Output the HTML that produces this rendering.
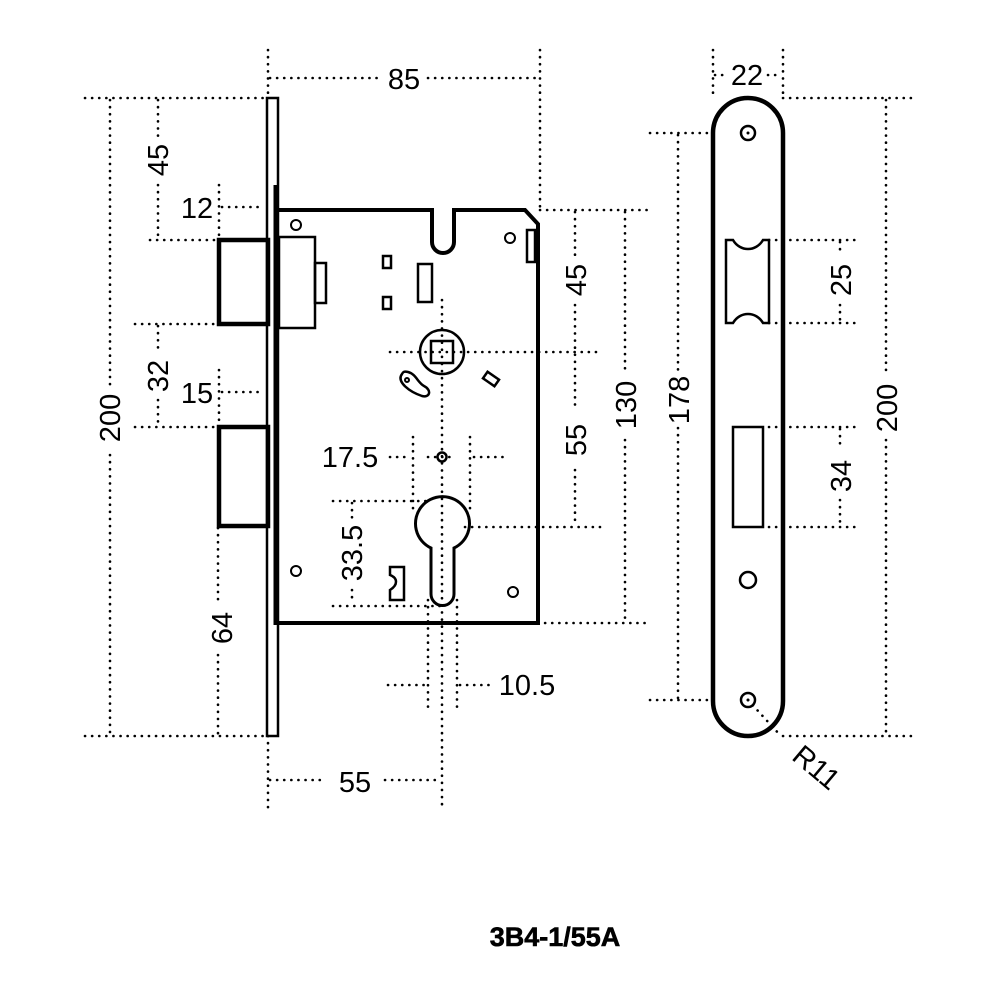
<!DOCTYPE html>
<html><head><style>html,body{margin:0;padding:0;background:#fff}svg{display:block}</style></head><body>
<svg width="1000" height="1000" viewBox="0 0 1000 1000" xmlns="http://www.w3.org/2000/svg" font-family="Liberation Sans, sans-serif">
<rect width="1000" height="1000" fill="#fff"/>
<g stroke="#000" stroke-width="2.6" stroke-dasharray="0.1 7" stroke-linecap="round" fill="none">
<line x1="85" y1="98" x2="268" y2="98"/><line x1="85" y1="736" x2="268" y2="736"/>
<line x1="268" y1="50" x2="268" y2="98"/><line x1="540" y1="50" x2="540" y2="210"/>
<line x1="270" y1="78" x2="380" y2="78"/><line x1="428" y1="78" x2="538" y2="78"/>
<line x1="110" y1="100" x2="110" y2="385"/><line x1="110" y1="455" x2="110" y2="734"/>
<line x1="158" y1="100" x2="158" y2="140"/><line x1="158" y1="185" x2="158" y2="238"/>
<line x1="158" y1="326" x2="158" y2="350"/><line x1="158" y1="400" x2="158" y2="425"/>
<line x1="150" y1="240" x2="219" y2="240"/><line x1="135" y1="324" x2="219" y2="324"/><line x1="135" y1="427" x2="219" y2="427"/>
<line x1="219" y1="185" x2="219" y2="240"/><line x1="222" y1="207" x2="264" y2="207"/>
<line x1="219" y1="370" x2="219" y2="427"/><line x1="222" y1="392" x2="264" y2="392"/>
<line x1="218" y1="528" x2="218" y2="600"/><line x1="218" y1="655" x2="218" y2="734"/>
<line x1="268" y1="736" x2="268" y2="810"/><line x1="442" y1="300" x2="442" y2="810"/>
<line x1="270" y1="780" x2="325" y2="780"/><line x1="385" y1="780" x2="440" y2="780"/>
<line x1="540" y1="210" x2="650" y2="210"/><line x1="390" y1="352" x2="600" y2="352"/>
<line x1="465" y1="527" x2="600" y2="527"/><line x1="538" y1="623" x2="650" y2="623"/>
<line x1="575" y1="212" x2="575" y2="255"/><line x1="575" y1="305" x2="575" y2="410"/><line x1="575" y1="470" x2="575" y2="525"/>
<line x1="625" y1="212" x2="625" y2="370"/><line x1="625" y1="440" x2="625" y2="621"/>
<line x1="413" y1="437" x2="413" y2="510"/><line x1="470" y1="437" x2="470" y2="510"/>
<line x1="390" y1="457" x2="410" y2="457"/><line x1="428" y1="457" x2="456" y2="457"/><line x1="474" y1="457" x2="505" y2="457"/>
<line x1="428" y1="600" x2="428" y2="712"/><line x1="457" y1="600" x2="457" y2="712"/>
<line x1="388" y1="685" x2="425" y2="685"/><line x1="460" y1="685" x2="495" y2="685"/>
<line x1="333" y1="501" x2="430" y2="501"/><line x1="333" y1="606" x2="440" y2="606"/>
<line x1="352" y1="503" x2="352" y2="520"/><line x1="352" y1="590" x2="352" y2="604"/>
<line x1="713" y1="50" x2="713" y2="98"/><line x1="783" y1="50" x2="783" y2="98"/>
<line x1="715" y1="75" x2="728" y2="75"/><line x1="768" y1="75" x2="781" y2="75"/>
<line x1="783" y1="98" x2="915" y2="98"/><line x1="783" y1="736" x2="915" y2="736"/>
<line x1="650" y1="133" x2="713" y2="133"/><line x1="650" y1="700" x2="713" y2="700"/>
<line x1="678" y1="135" x2="678" y2="370"/><line x1="678" y1="428" x2="678" y2="698"/>
<line x1="886" y1="100" x2="886" y2="375"/><line x1="886" y1="440" x2="886" y2="734"/>
<line x1="769" y1="240" x2="860" y2="240"/><line x1="769" y1="323" x2="860" y2="323"/>
<line x1="769" y1="427" x2="860" y2="427"/><line x1="769" y1="527" x2="860" y2="527"/>
<line x1="840" y1="242" x2="840" y2="255"/><line x1="840" y1="305" x2="840" y2="321"/>
<line x1="840" y1="429" x2="840" y2="450"/><line x1="840" y1="500" x2="840" y2="525"/>
<line x1="748" y1="700" x2="780" y2="735"/>
</g>
<g stroke="#000" fill="none" stroke-width="4">
<rect x="267" y="98" width="11" height="638" stroke-width="2.5"/>
<line x1="276" y1="185" x2="276" y2="625" stroke-width="5"/>
<path d="M278 210 H432 V242 A11 11 0 0 0 454 242 V210 H525 L538 224 V623 H278"/>
<rect x="527" y="230" width="8" height="32" stroke-width="2.5"/>
<rect x="219" y="240" width="49" height="84" stroke-width="4.5"/>
<rect x="219" y="427" width="49" height="99" stroke-width="4.5"/>
<rect x="279" y="237" width="36" height="91" stroke-width="2.5"/>
<rect x="315" y="263" width="11" height="40" stroke-width="2.5"/>
<rect x="383" y="256" width="8" height="12" stroke-width="2.5"/>
<rect x="383" y="297" width="8" height="12" stroke-width="2.5"/>
<rect x="418" y="264" width="14" height="38" stroke-width="2.5"/>
<circle cx="442" cy="352" r="22" stroke-width="2.5"/>
<rect x="431" y="341" width="22" height="22" stroke-width="2.5"/>
<rect x="484" y="375" width="14" height="8" transform="rotate(35 491 379)" stroke-width="2.5"/>
<path d="M402 374 C396 382 410 392 422 396 C430 398 432 390 424 386 C418 383 416 374 408 372 C404 371 403 372 402 374Z" stroke-width="2.5"/>
<circle cx="407" cy="380" r="2" stroke-width="2"/>
<circle cx="442" cy="457" r="4.5" stroke-width="2.5"/>
<path d="M431 548 A27 27 0 1 1 454 548 V594 A11.5 11.5 0 0 1 431 594 Z" stroke-width="3"/>
<path d="M390 567 H404 V600 H390 V590 C398 585 398 578 390 575 Z" stroke-width="2.5"/>
<circle cx="296" cy="225" r="5" stroke-width="2"/>
<circle cx="510" cy="238" r="5" stroke-width="2"/>
<circle cx="296" cy="571" r="5" stroke-width="2"/>
<circle cx="513" cy="592" r="5" stroke-width="2"/>
<rect x="713" y="98" width="70" height="638" rx="35" stroke-width="4.5"/>
<circle cx="748" cy="133" r="7" stroke-width="2.5"/>
<circle cx="748" cy="580" r="8" stroke-width="2.5"/>
<circle cx="748" cy="700" r="7" stroke-width="2.5"/>
<path d="M726 240 H733 C740 252 756 252 763 240 H769 V323 H763 C756 311 740 311 733 323 H726 Z" stroke-width="2.5"/>
<rect x="733" y="427" width="30" height="100" stroke-width="2.5"/>
</g>
<circle cx="748" cy="133" r="1.5"/><circle cx="748" cy="700" r="1.5"/>
<g font-size="29" fill="#000">
<text x="404" y="89" text-anchor="middle">85</text>
<text x="197" y="218" text-anchor="middle">12</text>
<text x="197" y="403" text-anchor="middle">15</text>
<text x="355" y="792" text-anchor="middle">55</text>
<text x="350" y="467" text-anchor="middle">17.5</text>
<text x="527" y="695" text-anchor="middle">10.5</text>
<text x="747" y="85" text-anchor="middle">22</text>
<text transform="translate(120,418) rotate(-90)" text-anchor="middle">200</text>
<text transform="translate(168,160) rotate(-90)" text-anchor="middle">45</text>
<text transform="translate(168,376) rotate(-90)" text-anchor="middle">32</text>
<text transform="translate(232,628) rotate(-90)" text-anchor="middle">64</text>
<text transform="translate(362,553) rotate(-90)" text-anchor="middle">33.5</text>
<text transform="translate(586,280) rotate(-90)" text-anchor="middle">45</text>
<text transform="translate(586,440) rotate(-90)" text-anchor="middle">55</text>
<text transform="translate(636,405) rotate(-90)" text-anchor="middle">130</text>
<text transform="translate(689,400) rotate(-90)" text-anchor="middle">178</text>
<text transform="translate(897,408) rotate(-90)" text-anchor="middle">200</text>
<text transform="translate(851,280) rotate(-90)" text-anchor="middle">25</text>
<text transform="translate(851,476) rotate(-90)" text-anchor="middle">34</text>
<text transform="translate(810,775) rotate(40)" text-anchor="middle">R11</text>
<text x="555" y="946" text-anchor="middle" font-weight="bold" font-size="27" stroke="#000" stroke-width="0.6">3B4-1/55A</text>
</g>
</svg>
</body></html>
